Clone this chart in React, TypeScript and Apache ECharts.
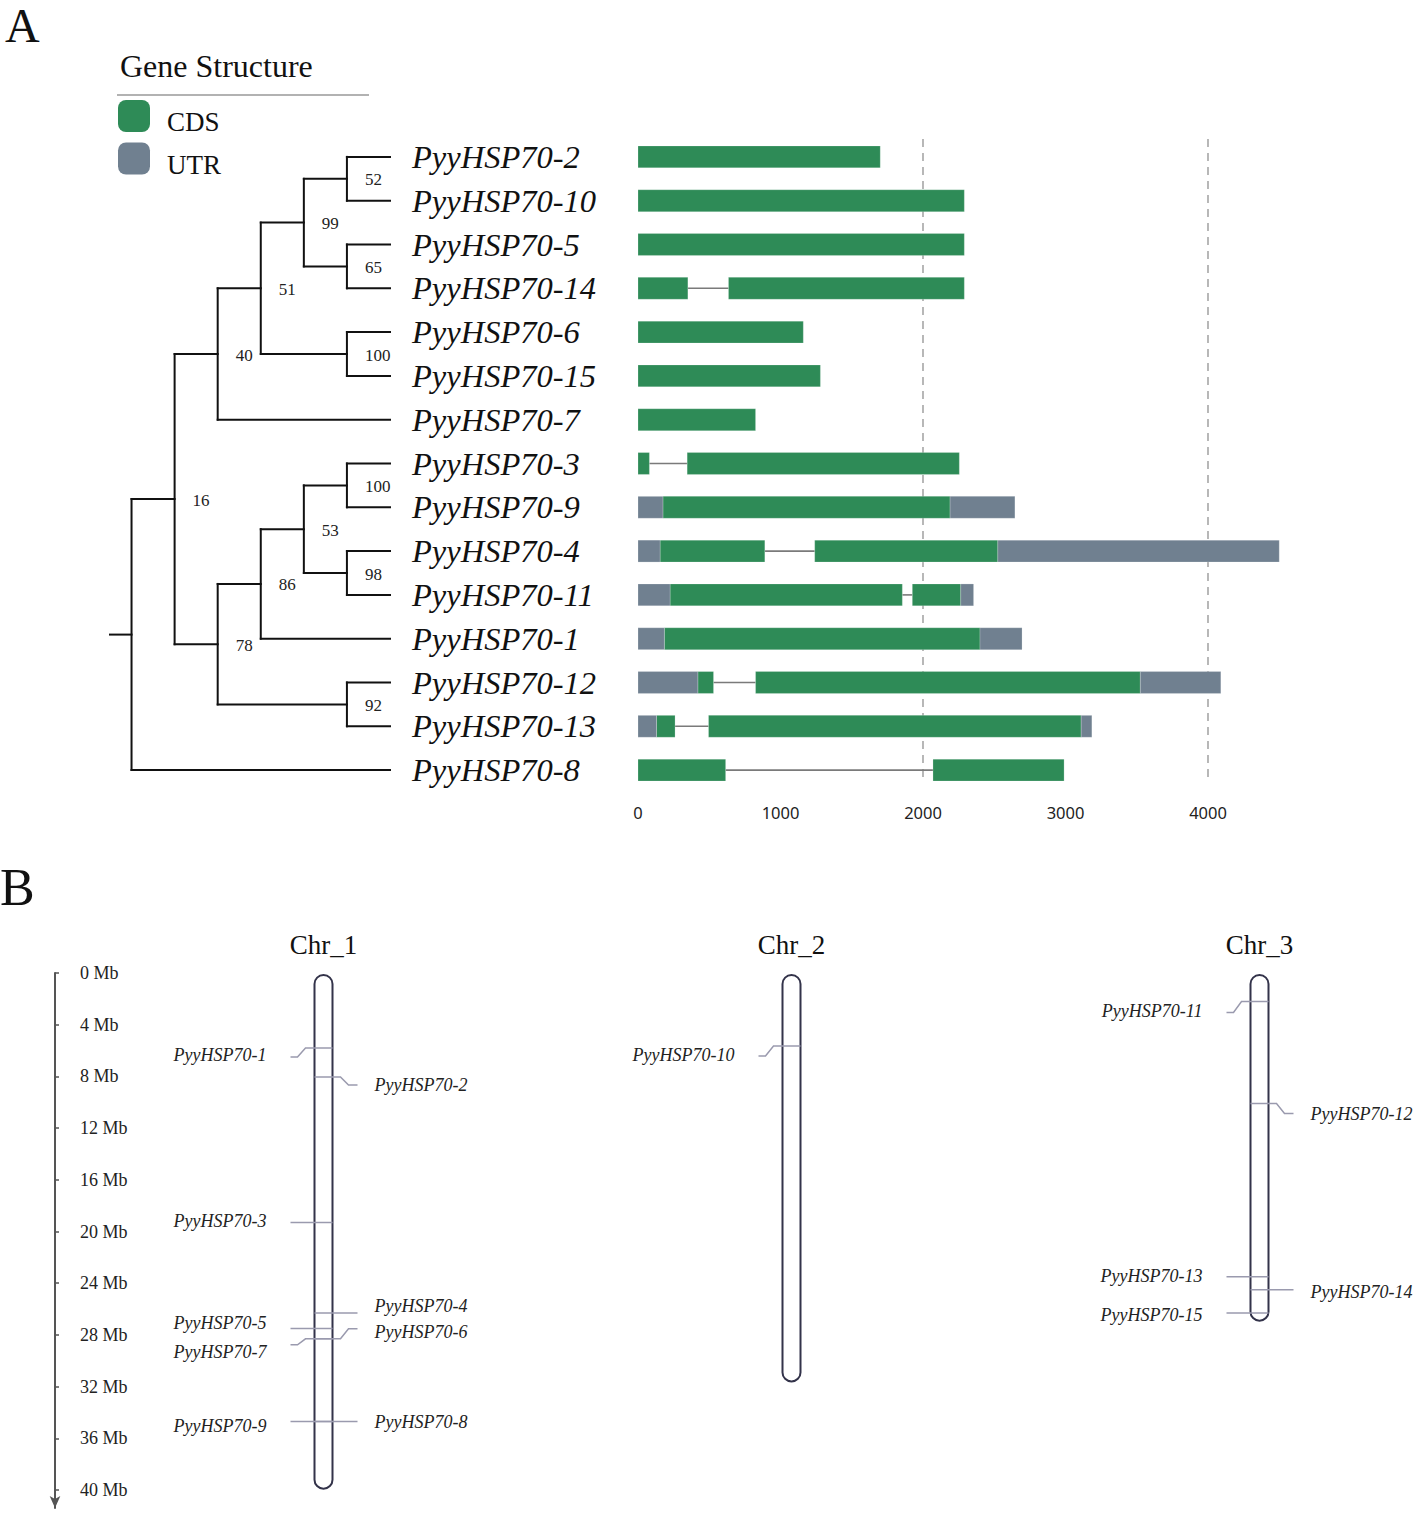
import React, { useEffect, useRef } from "react";
import * as echarts from "echarts";

// ---------------- Panel A data ----------------
const geneOrder = [
  "PyyHSP70-2", "PyyHSP70-10", "PyyHSP70-5", "PyyHSP70-14", "PyyHSP70-6",
  "PyyHSP70-15", "PyyHSP70-7", "PyyHSP70-3", "PyyHSP70-9", "PyyHSP70-4",
  "PyyHSP70-11", "PyyHSP70-1", "PyyHSP70-12", "PyyHSP70-13", "PyyHSP70-8",
];

// neighbour-joining tree with bootstrap supports
const newickTree =
  "((((((PyyHSP70-2,PyyHSP70-10)52,(PyyHSP70-5,PyyHSP70-14)65)99,(PyyHSP70-6,PyyHSP70-15)100)51,PyyHSP70-7)40," +
  "((((PyyHSP70-3,PyyHSP70-9)100,(PyyHSP70-4,PyyHSP70-11)98)53,PyyHSP70-1)86,(PyyHSP70-12,PyyHSP70-13)92)78)16,PyyHSP70-8)";

// gene structures: [feature, start bp, end bp]
type Feat = [string, number, number];
const struct2: Feat[] = [["CDS", 0, 1700]];
const struct10: Feat[] = [["CDS", 0, 2290]];
const struct5: Feat[] = [["CDS", 0, 2290]];
const struct14: Feat[] = [["CDS", 0, 350], ["intron", 350, 635], ["CDS", 635, 2290]];
const struct6: Feat[] = [["CDS", 0, 1160]];
const struct15: Feat[] = [["CDS", 0, 1280]];
const struct7: Feat[] = [["CDS", 0, 825]];
const struct3: Feat[] = [["CDS", 0, 80], ["intron", 80, 345], ["CDS", 345, 2255]];
const struct9: Feat[] = [["UTR", 0, 175], ["CDS", 175, 2190], ["UTR", 2190, 2645]];
const struct4: Feat[] = [["UTR", 0, 155], ["CDS", 155, 890], ["intron", 890, 1240], ["CDS", 1240, 2525], ["UTR", 2525, 4500]];
const struct11: Feat[] = [["UTR", 0, 225], ["CDS", 225, 1855], ["intron", 1855, 1925], ["CDS", 1925, 2265], ["UTR", 2265, 2355]];
const struct1: Feat[] = [["UTR", 0, 185], ["CDS", 185, 2400], ["UTR", 2400, 2695]];
const struct12: Feat[] = [["UTR", 0, 420], ["CDS", 420, 530], ["intron", 530, 825], ["CDS", 825, 3525], ["UTR", 3525, 4090]];
const struct13: Feat[] = [["UTR", 0, 130], ["CDS", 130, 260], ["intron", 260, 495], ["CDS", 495, 3110], ["UTR", 3110, 3185]];
const struct8: Feat[] = [["CDS", 0, 615], ["intron", 615, 2070], ["CDS", 2070, 2990]];
const geneStructures: Feat[][] = [
  struct2, struct10, struct5, struct14, struct6, struct15, struct7,
  struct3, struct9, struct4, struct11, struct1, struct12, struct13, struct8,
];

const bpTicks = [0, 1000, 2000, 3000, 4000];
const bpGuides = [2000, 4000];

// ---------------- Panel B data ----------------
const chromosomes = ["Chr_1", "Chr_2", "Chr_3"];
const chromosomeLengthMb = [39.9, 31.6, 26.9];
const mbTicks = [0, 4, 8, 12, 16, 20, 24, 28, 32, 36, 40];
const lociGene = [
  "PyyHSP70-1", "PyyHSP70-2", "PyyHSP70-3", "PyyHSP70-4", "PyyHSP70-5",
  "PyyHSP70-6", "PyyHSP70-7", "PyyHSP70-8", "PyyHSP70-9", "PyyHSP70-10",
  "PyyHSP70-11", "PyyHSP70-12", "PyyHSP70-13", "PyyHSP70-14", "PyyHSP70-15",
];
const lociChrom = [0, 0, 0, 0, 0, 0, 0, 0, 0, 1, 2, 2, 2, 2, 2];
const lociMb = [5.8, 8.05, 19.3, 26.3, 27.5, 28.3, 28.3, 34.7, 34.7, 5.65, 2.2, 10.1, 23.5, 24.5, 26.3];

// label layout for panel B (side, leader offset px, text offset px)
const lociSide = ["L", "R", "L", "R", "L", "R", "L", "R", "L", "L", "L", "R", "L", "R", "L"];
const lociLeaderDy = [9, 8, 0, 0, 0, -10, 6, 0, 0, 10, 11, 10, 0, 0, 0];
const lociTextDy = [-2, 0, -1, -7, -5, 3, 7, 0, 4, -1, -1, 0, -1, 2, 2];

// ---------------- styling ----------------
const SERIF = '"Liberation Serif", "Times New Roman", serif';
const SANS = '"Noto Sans", "DejaVu Sans", sans-serif';
const CDS_COLOR = "#2E8B57";
const UTR_COLOR = "#708090";

type TNode = { name: string; support: number | null; children: TNode[]; x: number; y: number };

function parseNewick(s: string): TNode {
  let i = 0;
  function node(): TNode {
    const n: TNode = { name: "", support: null, children: [], x: 0, y: 0 };
    if (s[i] === "(") {
      i++;
      n.children.push(node());
      while (s[i] === ",") {
        i++;
        n.children.push(node());
      }
      i++;
    }
    let tok = "";
    while (i < s.length && ",()".indexOf(s[i]) < 0) tok += s[i++];
    if (n.children.length) n.support = tok ? Number(tok) : null;
    else n.name = tok;
    return n;
  }
  return node();
}

const LEAF_DEPTH = 7;
function place(n: TNode) {
  if (!n.children.length) {
    n.x = LEAF_DEPTH;
    n.y = geneOrder.indexOf(n.name);
    return;
  }
  n.children.forEach(place);
  n.x = Math.min(...n.children.map((c) => c.x)) - 1;
  n.y = (n.children[0].y + n.children[n.children.length - 1].y) / 2;
}

function buildTree() {
  const root = parseNewick(newickTree);
  place(root);
  const segs: number[][] = [];
  const supports: number[][] = [];
  segs.push([root.x - 0.5, root.y, root.x, root.y]);
  const walk = (n: TNode) => {
    if (!n.children.length) return;
    const ys = n.children.map((c) => c.y);
    segs.push([n.x, Math.min(...ys), n.x, Math.max(...ys)]);
    n.children.forEach((c) => {
      segs.push([n.x, c.y, c.x, c.y]);
      walk(c);
    });
    if (n.support !== null) supports.push([n.x, n.y, n.support]);
  };
  walk(root);
  return { segs, supports };
}

function featureData(type: string) {
  const out: number[][] = [];
  geneStructures.forEach((feats, gi) =>
    feats.forEach(([t, s, e]) => {
      if (t === type) out.push([s, e, gi]);
    })
  );
  return out;
}

function textStyle(extra: any) {
  return {
    fill: "#111",
    fontFamily: SERIF,
    ...extra,
    align: extra.align,
    textAlign: extra.align,
    verticalAlign: "middle",
    textVerticalAlign: "middle",
  };
}

export default function App() {
  const ref = useRef<HTMLDivElement>(null);

  useEffect(() => {
    document.body.style.margin = "0";
    if (!ref.current) return;
    const chart = echarts.init(ref.current, null, { renderer: "svg" });
    const { segs, supports } = buildTree();

    const rectRender = (color: string) => (params: any, api: any) => {
      const s = api.coord([api.value(0), api.value(2)]);
      const e = api.coord([api.value(1), api.value(2)]);
      const h = api.size([0, 1])[1] * 0.5;
      return {
        type: "rect",
        shape: { x: s[0], y: s[1] - h / 2, width: e[0] - s[0], height: h },
        style: { fill: color, stroke: "rgba(255,255,255,0.35)", lineWidth: 0.6 },
      };
    };

    const option: any = {
      animation: false,
      backgroundColor: "#fff",
      legend: {
        data: ["CDS", "UTR"],
        orient: "vertical",
        left: 118,
        top: 100,
        padding: 0,
        itemWidth: 32,
        itemHeight: 32,
        itemGap: 7,
        icon: "roundRect",
        selectedMode: false,
        formatter: "{n|{name}}",
        textStyle: {
          fontFamily: SERIF,
          fontSize: 27,
          color: "#111",
          rich: {
            n: { fontFamily: SERIF, fontSize: 27, color: "#111", padding: [12, 0, 0, 12] },
          },
        },
      },
      grid: [
        { left: 638, top: 135, width: 570, height: 657 },
        { left: 110, top: 135, width: 280, height: 657 },
        { left: 323.5, top: 973, width: 936, height: 535.1 },
      ],
      xAxis: [
        {
          gridIndex: 0,
          type: "value",
          min: bpTicks[0],
          max: bpTicks[bpTicks.length - 1],
          interval: 1000,
          axisLine: { show: false },
          axisTick: { show: false },
          splitLine: { show: false },
          axisLabel: {
            fontFamily: SANS,
            fontSize: 16.5,
            color: "#222",
            margin: 12,
            formatter: (v: number) => String(v),
          },
        },
        { gridIndex: 1, type: "value", min: 0.5, max: LEAF_DEPTH, show: false },
        {
          gridIndex: 2,
          type: "category",
          data: chromosomes,
          boundaryGap: false,
          position: "top",
          axisLine: { show: false },
          axisTick: { show: false },
          axisLabel: { fontFamily: SERIF, fontSize: 27, color: "#111", margin: 15, interval: 0 },
        },
      ],
      yAxis: [
        {
          gridIndex: 0,
          type: "category",
          data: geneOrder,
          inverse: true,
          axisLine: { show: false },
          axisTick: { show: false },
          axisLabel: {
            align: "left",
            margin: 226,
            fontFamily: SERIF,
            fontStyle: "italic",
            fontSize: 32.5,
            color: "#111",
          },
        },
        { gridIndex: 1, type: "value", min: -0.5, max: geneOrder.length - 0.5, inverse: true, show: false },
        {
          gridIndex: 2,
          type: "value",
          min: 0,
          max: 41.4,
          inverse: true,
          position: "left",
          offset: 268.5,
          splitLine: { show: false },
          axisLine: {
            show: true,
            symbol: ["arrow", "none"],
            symbolSize: [8, 12],
            lineStyle: { color: "#555", width: 2 },
          },
          axisTick: {
            show: true,
            inside: true,
            length: 4,
            customValues: mbTicks,
            lineStyle: { color: "#555", width: 1.5 },
          },
          axisLabel: {
            inside: true,
            margin: 25,
            align: "left",
            customValues: mbTicks,
            formatter: "{value} Mb",
            fontFamily: SERIF,
            fontSize: 18,
            color: "#222",
          },
        },
      ],
      graphic: [
        { type: "text", x: 5, y: 25, style: textStyle({ text: "A", fontSize: 48, align: "left" }) },
        { type: "text", x: 0, y: 887, style: textStyle({ text: "B", fontSize: 52, align: "left" }) },
        { type: "text", x: 120, y: 66, style: textStyle({ text: "Gene Structure", fontSize: 32, align: "left" }) },
        { type: "line", shape: { x1: 117, y1: 95, x2: 369, y2: 95 }, style: { stroke: "#999", lineWidth: 1.5 } },
      ],
      series: [
        {
          name: "guides",
          type: "custom",
          xAxisIndex: 0,
          yAxisIndex: 0,
          encode: { x: 0, y: 1 },
          data: bpGuides.map((v) => [v, 0]),
          renderItem: (params: any, api: any) => {
            const p = api.coord([api.value(0), 0]);
            const cs = params.coordSys;
            return {
              type: "line",
              shape: { x1: p[0], y1: cs.y + 4, x2: p[0], y2: cs.y + cs.height - 10 },
              style: { stroke: "#9a9a9a", lineWidth: 1.4, lineDash: [8, 6] },
            };
          },
        },
        {
          name: "intron",
          type: "custom",
          xAxisIndex: 0,
          yAxisIndex: 0,
          encode: { x: [0, 1], y: 2 },
          data: featureData("intron"),
          renderItem: (params: any, api: any) => {
            const s = api.coord([api.value(0), api.value(2)]);
            const e = api.coord([api.value(1), api.value(2)]);
            return {
              type: "line",
              shape: { x1: s[0], y1: s[1], x2: e[0], y2: e[1] },
              style: { stroke: "#7a7a7a", lineWidth: 1.6 },
            };
          },
        },
        {
          name: "CDS",
          type: "custom",
          xAxisIndex: 0,
          yAxisIndex: 0,
          itemStyle: { color: CDS_COLOR },
          encode: { x: [0, 1], y: 2 },
          data: featureData("CDS"),
          renderItem: rectRender(CDS_COLOR),
        },
        {
          name: "UTR",
          type: "custom",
          xAxisIndex: 0,
          yAxisIndex: 0,
          itemStyle: { color: UTR_COLOR },
          encode: { x: [0, 1], y: 2 },
          data: featureData("UTR"),
          renderItem: rectRender(UTR_COLOR),
        },
        {
          name: "tree",
          type: "custom",
          xAxisIndex: 1,
          yAxisIndex: 1,
          encode: { x: [0, 2], y: [1, 3] },
          data: segs,
          renderItem: (params: any, api: any) => {
            const a = api.coord([api.value(0), api.value(1)]);
            const b = api.coord([api.value(2), api.value(3)]);
            return {
              type: "line",
              shape: { x1: a[0], y1: a[1], x2: b[0], y2: b[1] },
              style: { stroke: "#111", lineWidth: 2, lineCap: "square" },
            };
          },
        },
        {
          name: "support",
          type: "custom",
          xAxisIndex: 1,
          yAxisIndex: 1,
          encode: { x: 0, y: 1 },
          data: supports,
          renderItem: (params: any, api: any) => {
            const p = api.coord([api.value(0), api.value(1)]);
            return {
              type: "text",
              x: p[0] + 18,
              y: p[1] + 1,
              style: textStyle({ text: String(api.value(2)), fontSize: 17, align: "left", fill: "#222" }),
            };
          },
        },
        {
          name: "chromosome",
          type: "custom",
          xAxisIndex: 2,
          yAxisIndex: 2,
          encode: { x: 0, y: 1 },
          data: chromosomes.map((c, i) => [i, chromosomeLengthMb[i]]),
          renderItem: (params: any, api: any) => {
            const t = api.coord([api.value(0), 0]);
            const b = api.coord([api.value(0), api.value(1)]);
            const w = 18;
            return {
              type: "rect",
              shape: { x: t[0] - w / 2, y: t[1] + 2, width: w, height: b[1] - t[1] - 2, r: w / 2 },
              style: { fill: "#fff", stroke: "#33334a", lineWidth: 2 },
            };
          },
        },
        {
          name: "loci",
          type: "custom",
          xAxisIndex: 2,
          yAxisIndex: 2,
          encode: { x: 0, y: 1 },
          data: lociChrom.map((c, i) => [c, lociMb[i], i]),
          renderItem: (params: any, api: any) => {
            const i = api.value(2);
            const c = api.coord([api.value(0), api.value(1)]);
            const cx = c[0];
            const gy = c[1];
            const ly = gy + lociLeaderDy[i];
            const left = lociSide[i] === "L";
            const pts = left
              ? [[cx - 33, ly], [cx - 26, ly], [cx - 18, gy], [cx + 9, gy]]
              : [[cx - 9, gy], [cx + 17, gy], [cx + 25, ly], [cx + 34, ly]];
            return {
              type: "group",
              children: [
                { type: "polyline", shape: { points: pts }, style: { stroke: "#9a9aae", lineWidth: 1.5, fill: null } },
                {
                  type: "text",
                  x: left ? cx - 57 : cx + 51,
                  y: ly + lociTextDy[i],
                  style: textStyle({
                    text: lociGene[i],
                    fontSize: 18,
                    fontStyle: "italic",
                    align: left ? "right" : "left",
                    fill: "#222",
                  }),
                },
              ],
            };
          },
        },
      ],
    };

    chart.setOption(option);
    return () => chart.dispose();
  }, []);

  return <div ref={ref} style={{ width: 1416, height: 1514 }} />;
}
